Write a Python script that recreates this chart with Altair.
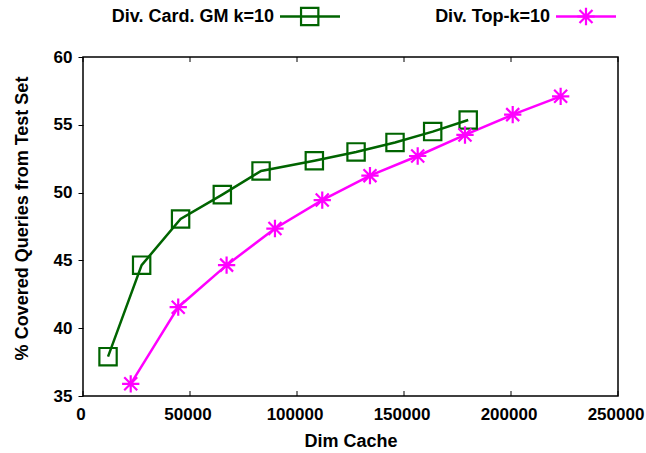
import altair as alt
import pandas as pd

series_names = ["Div. Card. GM k=10", "Div. Top-k=10"]
series_colors = ["#006400", "#ff00ff"]

green_x = [11700, 27400, 45600, 65100, 83200, 108100, 127600, 145800, 163400, 180000]
green_y = [37.9, 44.65, 48.05, 49.85, 51.6, 52.35, 53.0, 53.7, 54.5, 55.35]

magenta_x = [22300, 44500, 67100, 89700, 111800, 134100, 156400, 178500, 200800, 223200]
magenta_y = [35.9, 41.55, 44.65, 47.35, 49.45, 51.25, 52.7, 54.25, 55.75, 57.1]

x_ticks = [0, 50000, 100000, 150000, 200000, 250000]
y_ticks = [35, 40, 45, 50, 55, 60]

W, H = 535, 339
FONT = "Liberation Sans"
FS = 18
LFS = 17
ASTERISK = "M-1,0L1,0M0,-1L0,1M-0.75,-0.75L0.75,0.75M-0.75,0.75L0.75,-0.75"

df = pd.DataFrame({
    "dim": green_x + magenta_x,
    "pct": green_y + magenta_y,
    "series": [series_names[0]] * len(green_x) + [series_names[1]] * len(magenta_x),
})

xs = alt.Scale(domain=[0, 250000], nice=False, zero=False)
ys = alt.Scale(domain=[35, 60], nice=False, zero=False)
cs = alt.Scale(domain=series_names, range=series_colors)

x_axis = alt.Axis(
    title="Dim Cache", values=x_ticks, format="d", tickSize=0, labelPadding=10,
    labelOffset=-2.5, domain=False, grid=False, titleX=W / 2, titleY=50,
    titleBaseline="alphabetic", labelFlush=False)

base = alt.Chart(df).encode(
    x=alt.X("dim:Q", scale=xs, axis=x_axis),
    y=alt.Y("pct:Q", scale=ys, axis=alt.Axis(
        title="% Covered Queries from Test Set", values=y_ticks, tickSize=5, labelPadding=6,
        domain=False, grid=False, titleX=-56, titleY=161, titleBaseline="alphabetic",
        titleAngle=-90)),
    color=alt.Color("series:N", scale=cs, legend=None),
)

lines = base.mark_line(strokeWidth=2.5)
green_pts = base.transform_filter(alt.datum.series == series_names[0]).mark_point(
    shape="square", size=300, strokeWidth=2.2, filled=False, opacity=1)
mag_pts = base.transform_filter(alt.datum.series == series_names[1]).mark_point(
    shape=ASTERISK, size=300, strokeWidth=2.2, filled=False, opacity=1)

tick_df = pd.DataFrame({"t": x_ticks})
bottom_ticks = alt.Chart(tick_df).mark_rule(color="black", strokeWidth=1).encode(
    x=alt.X("t:Q", scale=xs, axis=x_axis), y=alt.value(H), y2=alt.value(H - 5))
top_ticks = alt.Chart(tick_df).mark_rule(color="black", strokeWidth=1).encode(
    x=alt.X("t:Q", scale=xs, axis=x_axis), y=alt.value(0), y2=alt.value(5))

LY = -40.5
leg_df = pd.DataFrame({"label": series_names})
legend_layers = []
leg_specs = [
    (series_names[0], series_colors[0], 191, 197, 257, 226.7, "square"),
    (series_names[1], series_colors[1], 467, 473, 533, 503, ASTERISK),
]
for name, col, tx, lx1, lx2, mx, shp in leg_specs:
    sub = alt.Chart(leg_df).transform_filter(alt.datum.label == name)
    legend_layers.append(sub.mark_text(
        align="right", baseline="middle", font=FONT, fontSize=FS, fontWeight="bold",
        color="black").encode(x=alt.value(tx), y=alt.value(LY), text="label:N"))
    legend_layers.append(sub.mark_rule(color=col, strokeWidth=2.5).encode(
        x=alt.value(lx1), x2=alt.value(lx2), y=alt.value(LY)))
    legend_layers.append(sub.mark_point(
        shape=shp, size=300, strokeWidth=2.2, filled=False, color=col, opacity=1).encode(
        x=alt.value(mx), y=alt.value(LY)))

chart = alt.layer(lines, green_pts, mag_pts, bottom_ticks, top_ticks, *legend_layers).properties(
    width=W, height=H,
    autosize=alt.AutoSizeParams(type="none"),
    padding={"left": 83, "top": 57, "right": 28, "bottom": 57},
    background="white",
).configure_view(
    stroke="black", strokeWidth=1.5
).configure_axis(
    labelFont=FONT, labelFontSize=LFS, labelFontWeight="bold", labelColor="black",
    titleFont=FONT, titleFontSize=FS, titleFontWeight="bold", titleColor="black",
    tickColor="black", tickWidth=1,
)

chart.save("out.html", embed_options={"renderer": "svg", "actions": False})
